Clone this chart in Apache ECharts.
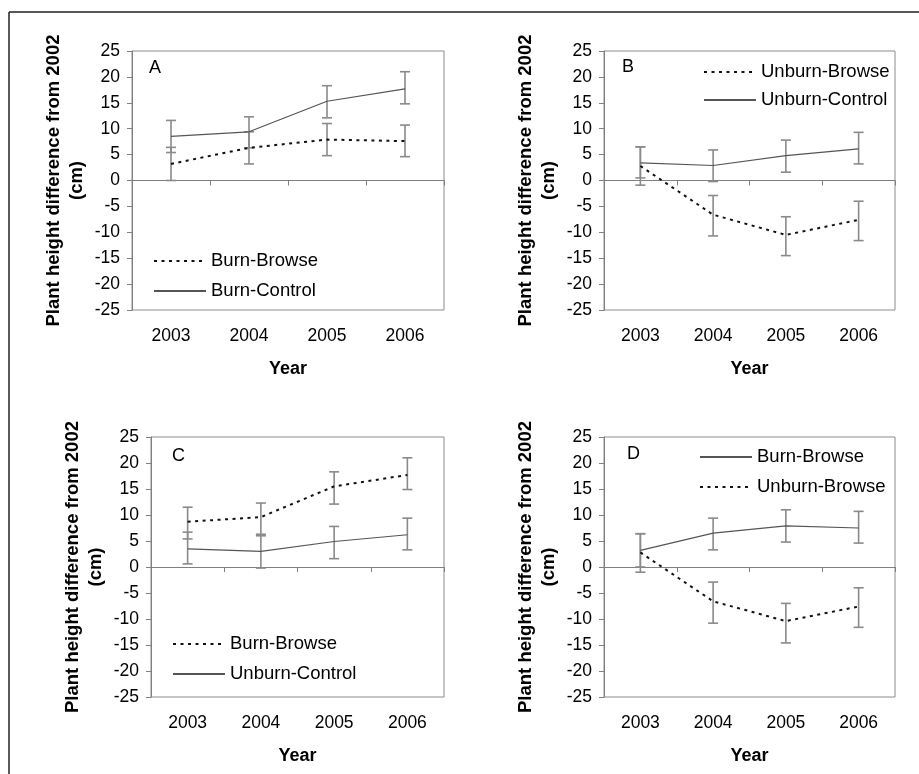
<!DOCTYPE html>
<html>
<head>
<meta charset="utf-8">
<script src="https://cdn.jsdelivr.net/npm/echarts@6/dist/echarts.min.js"></script>
<style>
html,body{margin:0;padding:0;background:#fff;}
#chart{width:919px;height:774px;}
</style>
</head>
<body>
<div id="chart"></div>
<script>
var years = ['2003', '2004', '2005', '2006'];
var yMin = -25, yMax = 25, yStep = 5;
var panelLetters = ['A', 'B', 'C', 'D'];
var yTitle = 'Plant height difference from 2002\n(cm)';
var xTitle = 'Year';

// Panel A
var aNames = ['Burn-Browse', 'Burn-Control'];
var aBurnBrowse = [3.2, 6.3, 7.9, 7.6];
var aBurnBrowseLow = [0.0, 3.2, 4.8, 4.6];
var aBurnBrowseHigh = [6.4, 9.4, 11.0, 10.7];
var aBurnControl = [8.5, 9.4, 15.3, 17.7];
var aBurnControlLow = [5.4, 6.3, 12.1, 14.8];
var aBurnControlHigh = [11.6, 12.3, 18.3, 21.0];

// Panel B
var bNames = ['Unburn-Browse', 'Unburn-Control'];
var bUnburnBrowse = [2.8, -6.6, -10.5, -7.6];
var bUnburnBrowseLow = [-0.9, -10.7, -14.5, -11.6];
var bUnburnBrowseHigh = [6.5, -2.9, -7.0, -4.0];
var bUnburnControl = [3.4, 2.9, 4.8, 6.1];
var bUnburnControlLow = [0.5, -0.2, 1.6, 3.2];
var bUnburnControlHigh = [6.5, 5.9, 7.8, 9.3];

// Panel C
var cNames = ['Burn-Browse', 'Unburn-Control'];
var cBurnBrowse = [8.7, 9.6, 15.5, 17.7];
var cBurnBrowseLow = [5.4, 6.3, 12.1, 14.9];
var cBurnBrowseHigh = [11.5, 12.3, 18.3, 21.0];
var cUnburnControl = [3.5, 3.0, 4.9, 6.2];
var cUnburnControlLow = [0.6, -0.2, 1.6, 3.3];
var cUnburnControlHigh = [6.7, 6.0, 7.8, 9.4];

// Panel D
var dNames = ['Burn-Browse', 'Unburn-Browse'];
var dBurnBrowse = [3.2, 6.5, 7.9, 7.5];
var dBurnBrowseLow = [0.0, 3.3, 4.8, 4.6];
var dBurnBrowseHigh = [6.4, 9.4, 11.0, 10.7];
var dUnburnBrowse = [2.8, -6.6, -10.4, -7.6];
var dUnburnBrowseLow = [-1.0, -10.8, -14.6, -11.6];
var dUnburnBrowseHigh = [6.4, -2.9, -7.0, -4.0];

var FONT = '"Liberation Sans", Arial, Helvetica, sans-serif';
var SOLID = {color: '#555555', width: 1.2, type: 'solid'};
var DOTTED = {color: '#111111', width: 2, type: [3, 4.5]};
var ERR_COLOR = '#8a8a8a';

var grids = [
  {left: 132, top: 51, width: 312, height: 259},
  {left: 604, top: 51, width: 291, height: 259},
  {left: 151, top: 437, width: 293, height: 260},
  {left: 604, top: 437, width: 291, height: 260}
];
var letterPos = [[149, 59], [622, 58], [172, 447], [627, 445]];
var legendPos = [[153, 251, 10], [703, 62, 8], [172, 634, 10], [699, 447, 10]];

var panels = [
  {names: aNames, series: [
    {data: aBurnBrowse, low: aBurnBrowseLow, high: aBurnBrowseHigh, style: DOTTED},
    {data: aBurnControl, low: aBurnControlLow, high: aBurnControlHigh, style: SOLID}]},
  {names: bNames, series: [
    {data: bUnburnBrowse, low: bUnburnBrowseLow, high: bUnburnBrowseHigh, style: DOTTED},
    {data: bUnburnControl, low: bUnburnControlLow, high: bUnburnControlHigh, style: SOLID}]},
  {names: cNames, series: [
    {data: cBurnBrowse, low: cBurnBrowseLow, high: cBurnBrowseHigh, style: DOTTED},
    {data: cUnburnControl, low: cUnburnControlLow, high: cUnburnControlHigh, style: SOLID}]},
  {names: dNames, series: [
    {data: dBurnBrowse, low: dBurnBrowseLow, high: dBurnBrowseHigh, style: SOLID},
    {data: dUnburnBrowse, low: dUnburnBrowseLow, high: dUnburnBrowseHigh, style: DOTTED}]}
];

function errRender(params, api) {
  var x = api.value(0);
  var top = api.coord([x, api.value(2)]);
  var bot = api.coord([x, api.value(1)]);
  var w = 5;
  var st = {stroke: ERR_COLOR, lineWidth: 1.6};
  return {type: 'group', children: [
    {type: 'line', shape: {x1: top[0], y1: top[1], x2: bot[0], y2: bot[1]}, style: st},
    {type: 'line', shape: {x1: top[0] - w, y1: top[1], x2: top[0] + w, y2: top[1]}, style: st},
    {type: 'line', shape: {x1: bot[0] - w, y1: bot[1], x2: bot[0] + w, y2: bot[1]}, style: st}
  ]};
}

var option = {
  backgroundColor: '#ffffff',
  animation: false,
  textStyle: {fontFamily: FONT},
  grid: [], xAxis: [], yAxis: [], series: [], legend: [], title: [],
  graphic: [
    {type: 'line', shape: {x1: 9, y1: 12, x2: 919, y2: 12}, style: {stroke: '#222', lineWidth: 1.5}},
    {type: 'line', shape: {x1: 9, y1: 12, x2: 9, y2: 774}, style: {stroke: '#222', lineWidth: 1.5}}
  ]
};

panels.forEach(function (p, k) {
  var g = grids[k];
  option.grid.push({left: g.left, top: g.top, width: g.width, height: g.height,
    show: true, borderColor: '#8c8c8c', borderWidth: 1, backgroundColor: 'transparent', containLabel: false});
  // bottom axis: labels + title
  option.xAxis.push({type: 'category', gridIndex: k, data: years, position: 'bottom',
    boundaryGap: true,
    axisLine: {show: false, onZero: false}, axisTick: {show: false},
    axisLabel: {color: '#000', fontSize: 17.5, margin: 17, fontFamily: FONT},
    name: xTitle, nameLocation: 'middle', nameGap: 50,
    nameTextStyle: {color: '#000', fontSize: 18, fontWeight: 'bold', fontFamily: FONT},
    splitLine: {show: false}});
  // zero line axis
  option.xAxis.push({type: 'category', gridIndex: k, data: years, position: 'top',
    boundaryGap: true,
    axisLine: {show: true, onZero: true, lineStyle: {color: '#808080', width: 1}},
    axisTick: {show: true, inside: true, length: 5, lineStyle: {color: '#808080'}},
    axisLabel: {show: false}, splitLine: {show: false}});
  option.yAxis.push({type: 'value', gridIndex: k, min: yMin, max: yMax, interval: yStep,
    axisLine: {show: true, lineStyle: {color: '#808080'}},
    axisTick: {show: true, length: 5, lineStyle: {color: '#808080'}},
    axisLabel: {color: '#000', fontSize: 17.5, margin: 12, fontFamily: FONT},
    splitLine: {show: false},
    name: yTitle, nameLocation: 'middle', nameGap: 44, nameRotate: 90,
    nameTextStyle: {color: '#000', fontSize: 18.5, fontWeight: 'bold', lineHeight: 23, fontFamily: FONT, align: 'center'}});
  var legendNames = [];
  p.series.forEach(function (s, j) {
    var nm = panelLetters[k] + '|' + p.names[j];
    legendNames.push(nm);
    option.series.push({type: 'custom', xAxisIndex: 2 * k, yAxisIndex: k, z: 1,
      renderItem: errRender, silent: true,
      data: years.map(function (y, i) { return [i, s.low[i], s.high[i]]; })});
    option.series.push({type: 'line', name: nm, xAxisIndex: 2 * k, yAxisIndex: k, z: 3,
      data: s.data, symbol: 'none', showSymbol: false, lineStyle: s.style, itemStyle: {color: s.style.color}});
  });
  option.legend.push({orient: 'vertical', left: legendPos[k][0], top: legendPos[k][1], itemGap: legendPos[k][2],
    padding: 0, itemWidth: 52, itemHeight: 12, data: legendNames, selectedMode: false,
    itemStyle: {opacity: 0, borderWidth: 0, color: 'rgba(0,0,0,0)'},
    formatter: function (n) { return n.split('|')[1]; },
    textStyle: {color: '#000', fontSize: 18.5, lineHeight: 20, fontFamily: FONT}});
  option.title.push({text: panelLetters[k], left: letterPos[k][0], top: letterPos[k][1], padding: 0,
    textStyle: {color: '#000', fontSize: 18, fontWeight: 'normal', fontFamily: FONT}});
});

var chart = echarts.init(document.getElementById('chart'), null, {renderer: 'canvas'});
chart.setOption(option);
</script>
</body>
</html>
